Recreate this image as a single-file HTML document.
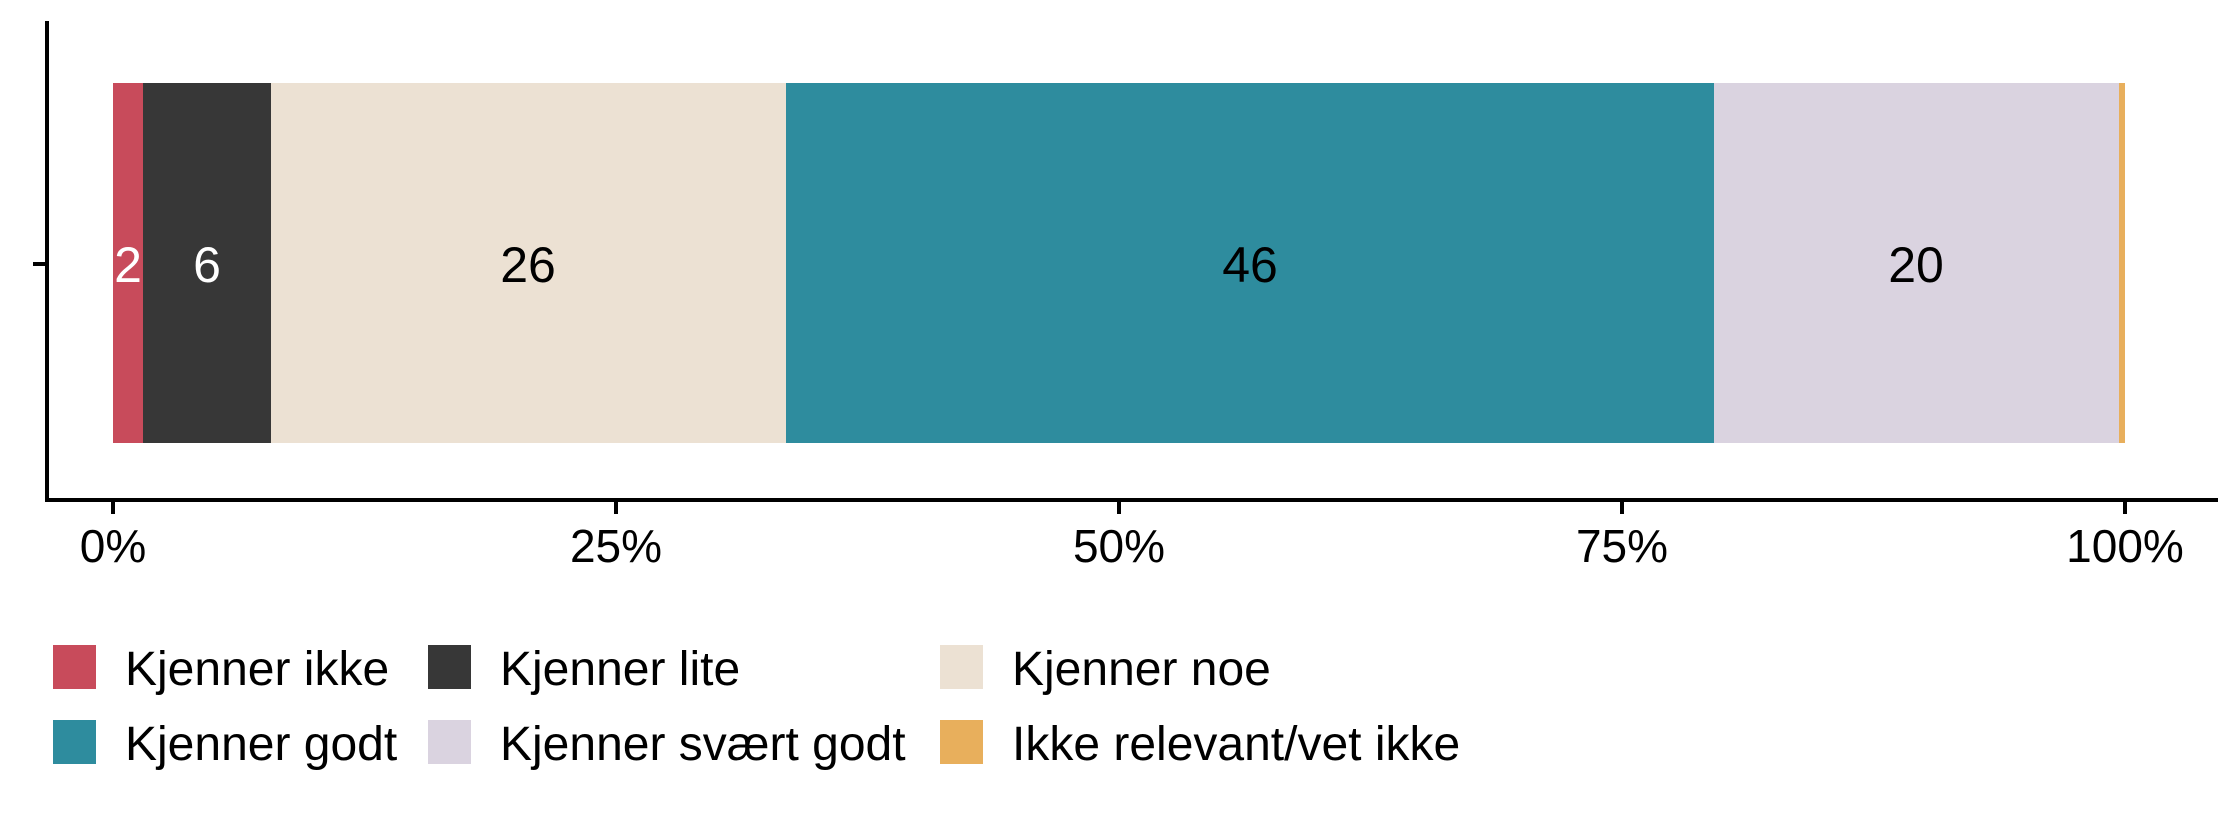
<!DOCTYPE html>
<html><head><meta charset="utf-8"><style>
html,body{margin:0;padding:0;background:#fff;}
svg{display:block;font-family:"Liberation Sans",Arial,sans-serif;}
</style></head><body>
<svg width="2240" height="816" viewBox="0 0 2240 816" xmlns="http://www.w3.org/2000/svg">
<rect x="113" y="83" width="30" height="360" fill="#C84B5B"/>
<rect x="143" y="83" width="128" height="360" fill="#373737"/>
<rect x="271" y="83" width="515" height="360" fill="#ECE1D3"/>
<rect x="786" y="83" width="928" height="360" fill="#2E8C9E"/>
<rect x="1714" y="83" width="406" height="360" fill="#DAD3E0"/>
<rect x="2119" y="83" width="6" height="360" fill="#E8AF5C"/>
<g font-size="50" text-anchor="middle">
<text x="128" y="282" fill="#fff">2</text>
<text x="207" y="282" fill="#fff">6</text>
<text x="528" y="282" fill="#000">26</text>
<text x="1250" y="282" fill="#000">46</text>
<text x="1916" y="282" fill="#000">20</text>
</g>
<line x1="47" y1="21" x2="47" y2="502" stroke="#000" stroke-width="4"/>
<line x1="45" y1="500" x2="2218" y2="500" stroke="#000" stroke-width="4"/>
<line x1="33" y1="264" x2="47" y2="264" stroke="#000" stroke-width="4"/>
<g stroke="#000" stroke-width="4">
<line x1="113" y1="500" x2="113" y2="514"/>
<line x1="616" y1="500" x2="616" y2="514"/>
<line x1="1119" y1="500" x2="1119" y2="514"/>
<line x1="1622" y1="500" x2="1622" y2="514"/>
<line x1="2125" y1="500" x2="2125" y2="514"/>
</g>
<g font-size="46" text-anchor="middle" fill="#000">
<text x="113" y="562">0%</text>
<text x="616" y="562">25%</text>
<text x="1119" y="562">50%</text>
<text x="1622" y="562">75%</text>
<text x="2125" y="562">100%</text>
</g>
<rect x="53" y="645" width="43" height="44" fill="#C84B5B"/>
<rect x="428" y="645" width="43" height="44" fill="#373737"/>
<rect x="940" y="645" width="43" height="44" fill="#ECE1D3"/>
<rect x="53" y="720" width="43" height="44" fill="#2E8C9E"/>
<rect x="428" y="720" width="43" height="44" fill="#DAD3E0"/>
<rect x="940" y="720" width="43" height="44" fill="#E8AF5C"/>
<g font-size="48" fill="#000">
<text x="125" y="685">Kjenner ikke</text>
<text x="500" y="685">Kjenner lite</text>
<text x="1012" y="685">Kjenner noe</text>
<text x="125" y="760">Kjenner godt</text>
<text x="500" y="760">Kjenner svært godt</text>
<text x="1012" y="760">Ikke relevant/vet ikke</text>
</g>
</svg>
</body></html>
